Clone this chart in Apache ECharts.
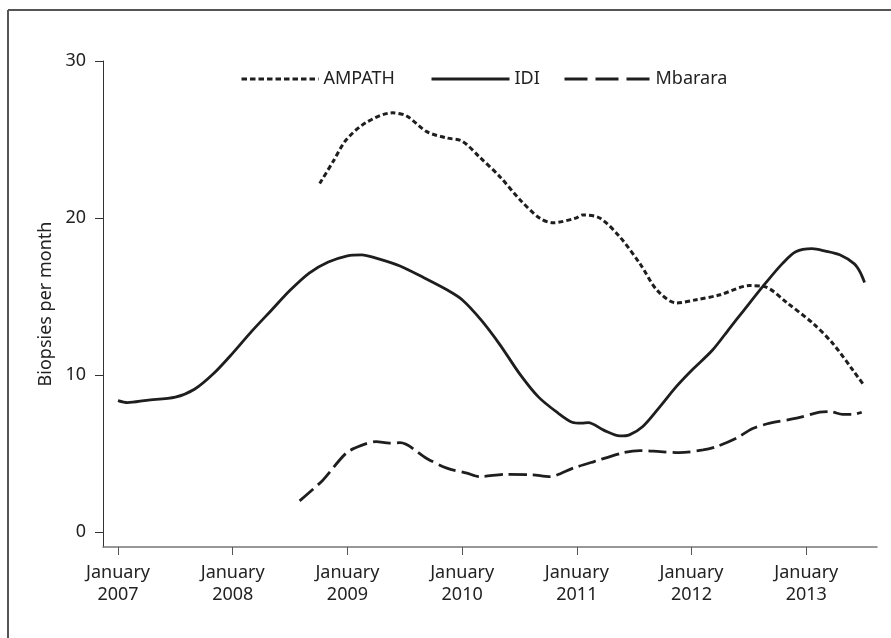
<!DOCTYPE html>
<html>
<head>
<meta charset="utf-8">
<script src="https://cdn.jsdelivr.net/npm/echarts@6/dist/echarts.min.js"></script>
<style>
html,body{margin:0;padding:0;background:#fff;}
#chart{width:891px;height:638px;}
</style>
</head>
<body>
<div id="chart"></div>
<script>
// x values are months since January 2007
const tickMonths = [0, 12, 24, 36, 48, 60, 72];
const tickLabels = ['January\n2007','January\n2008','January\n2009','January\n2010','January\n2011','January\n2012','January\n2013'];
const yTicks = [0, 10, 20, 30];

const idiMonths = [0,1,3,6,8,10,12,14,16,18,20,22,24,25.5,27,29.5,32,34.5,36,38,40,42,44,46,47.5,48.5,49.2,50.8,52.5,53.5,54.9,56.7,58.4,60,62.2,64,65.3,67.8,69.5,70.9,72.6,74,75.5,77,77.6,78.1];
const idiValues = [8.38,8.25,8.4,8.6,9.1,10.1,11.4,12.8,14.1,15.4,16.5,17.2,17.6,17.66,17.45,16.95,16.2,15.4,14.8,13.5,11.9,10.1,8.6,7.6,7.0,6.94,6.98,6.5,6.13,6.2,6.73,8.0,9.27,10.3,11.6,13.0,14.0,15.9,17.1,17.85,18.05,17.9,17.66,17.1,16.6,15.9];

const ampathMonths = [21.1,22.5,23.9,26,28.7,30.2,32.3,34.4,36,37.8,40,42,44.1,45.5,47.9,48.6,50.4,52.5,54.6,56.4,58.4,60.5,62.9,66.1,67.8,70,72.7,74.8,76.9,78.1];
const ampathValues = [22.2,23.6,25.0,26.1,26.7,26.5,25.5,25.1,24.9,23.9,22.6,21.2,20.0,19.7,20.0,20.2,20.0,18.8,17.1,15.4,14.6,14.8,15.1,15.7,15.6,14.6,13.3,12.0,10.3,9.3];

const mbararaMonths = [19,21.4,23.9,25.6,27,28.4,29.5,32.3,34.4,36.5,37.8,40.6,43.4,45.1,47.7,49.8,52.9,54.6,56.7,58.7,61.2,62.6,64.7,66.4,68.2,71,73.4,74.5,75.8,76.9,77.8];
const mbararaValues = [2.0,3.3,5.05,5.56,5.77,5.67,5.7,4.7,4.08,3.76,3.54,3.69,3.65,3.54,4.1,4.5,5.07,5.2,5.13,5.07,5.24,5.45,5.99,6.6,6.94,7.26,7.64,7.68,7.5,7.5,7.64];

const pairs = (xs, ys) => xs.map((x, i) => [x, ys[i]]);

const FONT = 'Noto Sans';
const TXT = '#222';
const LINE = '#1e1e1e';

const chart = echarts.init(document.getElementById('chart'), null, {renderer: 'canvas'});
const legendBase = {
  top: 70, padding: 0, itemHeight: 14, selectedMode: false,
  itemStyle: {opacity: 0},
  textStyle: {fontFamily: FONT, fontSize: 18, color: TXT}
};
chart.setOption({
  animation: false,
  backgroundColor: '#fff',
  grid: {left: 103, top: 61, right: 14, bottom: 91},
  legend: [
    Object.assign({}, legendBase, {left: 240, itemWidth: 77, data: ['AMPATH'], lineStyle: {width: 3, type: [5.5, 3]}}),
    Object.assign({}, legendBase, {left: 430, itemWidth: 78, data: ['IDI'], lineStyle: {width: 3}}),
    Object.assign({}, legendBase, {left: 563, itemWidth: 86, data: ['Mbarara'], lineStyle: {width: 3, type: [23, 8]}})
  ],
  xAxis: {
    type: 'value', min: -1.57, max: 79.4,
    splitLine: {show: false},
    axisLine: {onZero: false, lineStyle: {color: '#777', width: 1.5}},
    axisTick: {show: true, length: 8, lineStyle: {color: '#555'}, customValues: tickMonths},
    axisLabel: {
      customValues: tickMonths,
      formatter: v => tickLabels[tickMonths.indexOf(Math.round(v))] || '',
      fontFamily: FONT, fontSize: 18, color: TXT, lineHeight: 22, margin: 15
    }
  },
  yAxis: {
    type: 'value', min: -0.94, max: 30,
    name: 'Biopsies per month', nameLocation: 'middle', nameGap: 46,
    nameTextStyle: {fontFamily: FONT, fontSize: 18, color: TXT},
    splitLine: {show: false},
    axisLine: {show: true, onZero: false, lineStyle: {color: '#333', width: 1}},
    axisTick: {show: true, length: 8, lineStyle: {color: '#333'}, customValues: yTicks},
    axisLabel: {customValues: yTicks, fontFamily: FONT, fontSize: 18, color: TXT, margin: 17}
  },
  series: [
    {name: 'AMPATH', type: 'line', data: pairs(ampathMonths, ampathValues), smooth: 0.3, symbol: 'none',
     lineStyle: {color: LINE, width: 3, type: [5, 3]}, itemStyle: {color: LINE}},
    {name: 'IDI', type: 'line', data: pairs(idiMonths, idiValues), smooth: 0.3, symbol: 'none',
     lineStyle: {color: LINE, width: 2.8, type: 'solid'}, itemStyle: {color: LINE}},
    {name: 'Mbarara', type: 'line', data: pairs(mbararaMonths, mbararaValues), smooth: 0.3, symbol: 'none',
     lineStyle: {color: LINE, width: 2.8, type: [18, 6]}, itemStyle: {color: LINE}}
  ],
  graphic: [
    {type: 'line', shape: {x1: 8, y1: 10, x2: 8, y2: 638}, style: {stroke: '#555', lineWidth: 2}},
    {type: 'line', shape: {x1: 8, y1: 10, x2: 891, y2: 10}, style: {stroke: '#555', lineWidth: 2}}
  ]
});
</script>
</body>
</html>
